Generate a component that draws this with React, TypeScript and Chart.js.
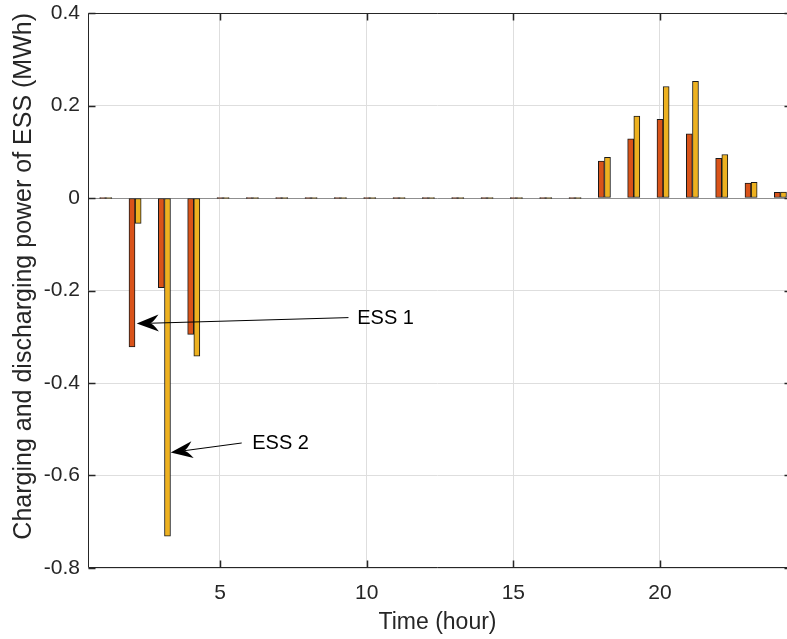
import React, { useEffect, useRef } from "react";
import { Chart, registerables } from "chart.js";

Chart.register(...registerables);

// ---- data ----
const hours = [1, 2, 3, 4, 5, 6, 7, 8, 9, 10, 11, 12, 13, 14, 15, 16, 17, 18, 19, 20, 21, 22, 23, 24];
const ess1 = [0, -0.322, -0.194, -0.295, 0, 0, 0, 0, 0, 0, 0, 0, 0, 0, 0, 0, 0, 0.08, 0.128, 0.17, 0.139, 0.086, 0.032, 0.012];
const ess2 = [0, -0.055, -0.731, -0.342, 0, 0, 0, 0, 0, 0, 0, 0, 0, 0, 0, 0, 0, 0.088, 0.177, 0.241, 0.252, 0.094, 0.034, 0.013];
const seriesNames = ["ESS 1", "ESS 2"];
const seriesShift = [0, 0.21]; // hour offset of each series within an hour
const seriesColors = ["#D95319", "#EDB120"];
const xTicks = [5, 10, 15, 20];
const yTicks = [-0.8, -0.6, -0.4, -0.2, 0, 0.2, 0.4];
const xLimits = [0.5, 24.33]; // right side of the axes is cropped by the image edge
const yLimits = [-0.8, 0.4];
const xTitle = "Time (hour)";
const yTitle = "Charging and discharging power of ESS (MWh)";
// annotation arrows in data coordinates: [x, y]
const annLabels = ["ESS 1", "ESS 2"];
const annTails = [[9.38, -0.2586], [5.74, -0.5297]];
const annTips = [[2.16, -0.2716], [3.32, -0.5503]];
const annTextPos = [[9.68, -0.2597], [6.1, -0.531]];

const FONT = "'Liberation Sans', Arial, Helvetica, sans-serif";
const AXIS_COLOR = "#262626";

const framePlugin = {
  id: "matlabFrame",
  beforeDatasetsDraw(chart: any) {
    const { ctx, chartArea: a, scales } = chart;
    const y0 = Math.round(scales.y.getPixelForValue(0)) + 0.5;
    ctx.save();
    ctx.strokeStyle = "#8f8f8f";
    ctx.lineWidth = 1;
    ctx.beginPath();
    ctx.moveTo(a.left, y0);
    ctx.lineTo(a.right, y0);
    ctx.stroke();
    ctx.restore();
  },
  afterDraw(chart: any) {
    const { ctx, chartArea: a, scales } = chart;
    const xs = scales.x;
    const ys = scales.y;
    const L = Math.round(a.left) + 0.5;
    const R = Math.round(a.right);
    const T = Math.round(a.top) + 0.5;
    const B = Math.round(a.bottom) - 0.5;
    ctx.save();
    ctx.strokeStyle = AXIS_COLOR;
    ctx.lineWidth = 1;
    ctx.beginPath();
    ctx.moveTo(R, T);
    ctx.lineTo(L, T);
    ctx.lineTo(L, B);
    ctx.lineTo(R, B);
    ctx.stroke();
    const tl = 7;
    ctx.lineWidth = 1.5;
    ctx.beginPath();
    xTicks.forEach((v) => {
      const px = Math.round(xs.getPixelForValue(v)) + 0.5;
      ctx.moveTo(px, B);
      ctx.lineTo(px, B - tl);
      ctx.moveTo(px, T);
      ctx.lineTo(px, T + tl);
    });
    yTicks.forEach((v) => {
      const py = Math.round(ys.getPixelForValue(v)) + 0.5;
      ctx.moveTo(L, py);
      ctx.lineTo(L + tl, py);
      // right-hand ticks: the axis itself lies just past the image edge
      ctx.moveTo(R, py);
      ctx.lineTo(R - 2.5, py);
    });
    ctx.stroke();

    // annotations
    annLabels.forEach((label, i) => {
      const tx = xs.getPixelForValue(annTails[i][0]);
      const ty = ys.getPixelForValue(annTails[i][1]);
      const hx = xs.getPixelForValue(annTips[i][0]);
      const hy = ys.getPixelForValue(annTips[i][1]);
      const dx = hx - tx;
      const dy = hy - ty;
      const len = Math.hypot(dx, dy);
      const ux = dx / len;
      const uy = dy / len;
      const nx = -uy;
      const ny = ux;
      const headLen = 22;
      const headHalf = 8.5;
      const notch = 13;
      ctx.strokeStyle = "#000";
      ctx.fillStyle = "#000";
      ctx.lineWidth = 1;
      ctx.beginPath();
      ctx.moveTo(tx, ty);
      ctx.lineTo(hx - ux * notch, hy - uy * notch);
      ctx.stroke();
      const bx = hx - ux * headLen;
      const by = hy - uy * headLen;
      ctx.beginPath();
      ctx.moveTo(hx, hy);
      ctx.lineTo(bx + nx * headHalf, by + ny * headHalf);
      ctx.quadraticCurveTo(hx - ux * (notch + 3), hy - uy * (notch + 3), hx - ux * notch, hy - uy * notch);
      ctx.quadraticCurveTo(hx - ux * (notch + 3), hy - uy * (notch + 3), bx - nx * headHalf, by - ny * headHalf);
      ctx.closePath();
      ctx.fill();

      ctx.font = `20px ${FONT}`;
      ctx.textAlign = "left";
      ctx.textBaseline = "middle";
      ctx.fillText(label, xs.getPixelForValue(annTextPos[i][0]), ys.getPixelForValue(annTextPos[i][1]));
    });
    ctx.restore();
  },
};

export default function App() {
  const canvasRef = useRef<HTMLCanvasElement | null>(null);

  useEffect(() => {
    const canvas = canvasRef.current;
    if (!canvas) return;
    const datasets = [ess1, ess2].map((vals, s) => ({
      label: seriesNames[s],
      data: hours.map((h, i) => ({ x: h + seriesShift[s], y: vals[i] })),
      backgroundColor: seriesColors[s],
      borderColor: "#1a1a1a",
      borderWidth: 1,
      borderSkipped: false as any,
      barThickness: 6,
      minBarLength: 1,
      grouped: false,
    }));

    const chart = new Chart(canvas, {
      type: "bar",
      data: { datasets },
      plugins: [framePlugin],
      options: {
        animation: false,
        responsive: false,
        devicePixelRatio: 1,
        layout: { padding: { left: 0, top: 13, right: 0, bottom: 0 } },
        plugins: {
          legend: { display: false },
          tooltip: { enabled: false },
        },
        scales: {
          x: {
            type: "linear",
            min: xLimits[0],
            max: xLimits[1],
            offset: false,
            border: { display: false },
            grid: { color: "#dedede", drawTicks: false, offset: false },
            afterBuildTicks: (axis: any) => {
              axis.ticks = xTicks.map((v) => ({ value: v }));
            },
            afterFit: (axis: any) => {
              axis.height = 71;
              axis.paddingLeft = 0;
              axis.paddingRight = 0;
            },
            ticks: {
              autoSkip: false,
              maxRotation: 0,
              padding: 13,
              color: AXIS_COLOR,
              font: { family: FONT, size: 21 },
              callback: (v: any) => String(v),
            },
            title: {
              display: true,
              text: xTitle,
              color: AXIS_COLOR,
              font: { family: FONT, size: 23 },
              padding: { top: 3, bottom: 3 },
            },
          },
          y: {
            type: "linear",
            min: yLimits[0],
            max: yLimits[1],
            border: { display: false },
            grid: { color: "#dedede", drawTicks: false },
            afterBuildTicks: (axis: any) => {
              axis.ticks = yTicks.map((v) => ({ value: v }));
            },
            afterFit: (axis: any) => {
              axis.width = 88;
              axis.paddingTop = 0;
              axis.paddingBottom = 0;
            },
            ticks: {
              padding: 8,
              color: AXIS_COLOR,
              font: { family: FONT, size: 21 },
              callback: (v: any) => String(Math.round(Number(v) * 10) / 10),
            },
            title: {
              display: true,
              text: yTitle,
              align: "end",
              color: AXIS_COLOR,
              font: { family: FONT, size: 25 },
              padding: { top: 9, bottom: 9 },
            },
          },
        },
      } as any,
    });
    return () => chart.destroy();
  }, []);

  return (
    <div style={{ position: "absolute", left: 0, top: 0, width: 787, height: 639, overflow: "hidden", background: "#fff" }}>
      <canvas ref={canvasRef} width={787} height={639} style={{ width: 787, height: 639, display: "block" }} />
    </div>
  );
}
